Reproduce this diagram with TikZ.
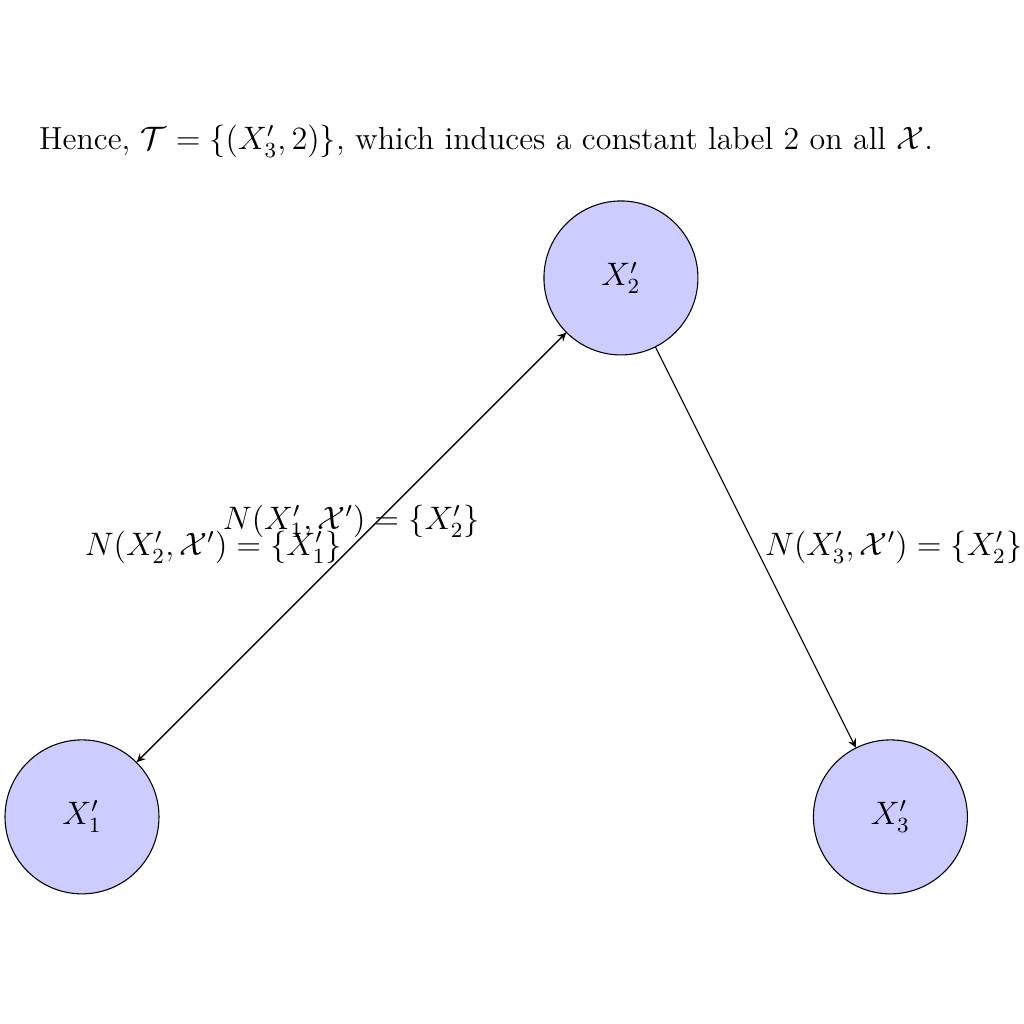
\documentclass[tikz,border=0pt]{standalone}
\usepackage{amsmath,amssymb}
\begin{document}
\begin{tikzpicture}[>=stealth, line join=round, font=\fontsize{11.6pt}{14pt}\selectfont,
	vertex/.style={circle,draw,fill=blue!20,minimum size=2cm}]
	\useasboundingbox (-1.065,-2.69) rectangle (12.23,10.61);
	\node[font=\fontsize{11.8pt}{14pt}\selectfont] (hence) at (5.25,8.77) {Hence, $\mathcal{T}=\{(X'_3,2)\}$, which induces a constant label 2 on all $\mathcal{X}$.};
	\node[vertex] (x1) at (0,0) {$X'_1$};
	\node[vertex] (x2) at (7,7) {$X'_2$};
	\node[vertex] (x3) at (10.5,0) {$X'_3$};
	\draw[->] (x1)--(x2) node[midway,above]{$N(X'_1,\mathcal{X}')=\{X'_2\}$};
	\draw[->] (x2)--(x1) node[midway,left]{$N(X'_2,\mathcal{X}')=\{X'_1\}$};
	\draw[->] (x2)--(x3) node[midway,right]{$N(X'_3,\mathcal{X}')=\{X'_2\}$};
\end{tikzpicture}
\end{document}
